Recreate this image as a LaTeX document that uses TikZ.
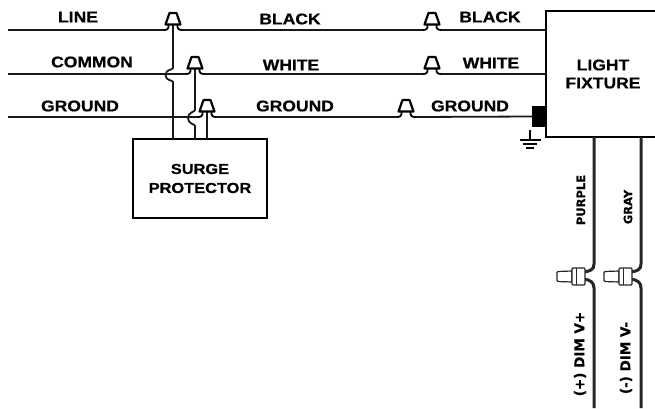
\documentclass[tikz,border=0pt]{standalone}
\usepackage{fontspec}
\setmainfont[FakeStretch=1.13,BoldFeatures={FakeStretch=1.13,FakeBold=0.6}]{Liberation Sans}
\newfontfamily\rotfont[BoldFeatures={FakeBold=0.3}]{DejaVu Sans}
\tikzset{
 wire/.style={draw=black!90,line width=1.8pt},
 lab/.style={font=\bfseries\fontsize{15.5}{18}\selectfont,inner sep=0pt,anchor=center},
 boxlab/.style={font=\bfseries\fontsize{14.5}{18}\selectfont,align=center,inner sep=0pt},
 vlab/.style={font=\rotfont\bfseries\fontsize{11.5}{12}\selectfont,rotate=90,inner sep=0pt},
 dimlab/.style={font=\rotfont\bfseries\fontsize{13.5}{14}\selectfont,rotate=90,inner sep=0pt},
 rail/.style={draw=black!85,line width=3pt},
 nut/.pic={\draw[line width=2.2pt,line join=round,fill=white] (-3.5,-17)--(3.5,-17)--(7.5,-5.5)--(-7.5,-5.5)--cycle;
   \draw[line width=1.8pt] (-4.5,-5.5) .. controls (-4,-1) and (-6,0) .. (-9,0);
   \draw[line width=1.8pt] (4.5,-5.5) .. controls (4,-1) and (6,0) .. (9,0);},
 wirenut/.pic={\draw[line width=1.2pt,draw=black!85,fill=white,rounded corners=1pt] (0,-5)--(15,-5.5)--(15,5.5)--(0,5)--cycle;
   \draw[line width=1.2pt,draw=black!85,fill=white,rounded corners=1pt] (15,-8.5) rectangle (28,8.5);
   \draw[line width=1pt,draw=black!85] (19,-8.5)--(19,8.5);}
}
\begin{document}
\begin{tikzpicture}[x=1pt,y=-1pt]
\useasboundingbox (0,0) rectangle (655,408);
\coordinate (n1) at (173,30); \coordinate (n2) at (195,74); \coordinate (n3) at (207,117);
\coordinate (r1) at (432,30); \coordinate (r2) at (432,74); \coordinate (r3) at (406,117);
\coordinate (l1) at (8,30); \coordinate (l2) at (8,74); \coordinate (l3) at (8,117);
\node[draw=black,line width=2pt,minimum width=134pt,minimum height=79pt,inner sep=0pt,boxlab] (sp) at (200,178.5) {SURGE\\[1pt]PROTECTOR};
\coordinate (fx) at (546,11);
\coordinate (fy) at (546,137);
\coordinate (fe) at (655,137);
\coordinate (ft) at (655,11);
\draw[line width=2pt] (ft)--(fx)--(fy)--(fe);
\node[font=\bfseries\fontsize{15.5}{18}\selectfont,align=center,inner sep=0pt] (lf) at (603,74) {LIGHT\\FIXTURE};
\node[fill=black,minimum width=14pt,minimum height=21pt,inner sep=0pt] (blk) at (539,116.5) {};
% horizontal wires
\draw[wire] (l1)--(165,30);
\draw[wire] (181,30)--(423,30);
\draw[wire] (441,30)--(546,30);
\draw[wire] (l2)--(187,74);
\draw[wire] (203,74)--(423,74);
\draw[wire] (441,74)--(546,74);
\draw[wire] (l3)--(199,117);
\draw[wire] (215,117)--(397,117);
\draw[wire] (415,117)--(blk.west);
% verticals with hops
\draw[wire] (173,24)--(173,68) .. controls (173,70) and (165.5,69) .. (165.5,75) .. controls (165.5,81) and (173,80) .. (173,82)--(173,139);
\draw[wire] (195,68)--(195,110) .. controls (195,112) and (188,112) .. (188,118) .. controls (188,124) and (195,124) .. (195,126)--(195,139);
\draw[wire] (207,111)--(207,139);
% nuts
\foreach \c in {n1,n2,n3,r1,r2,r3}{\pic at (\c) {nut};}
% ground
\coordinate (g0) at (530,130);
\draw[line width=1.2pt] (g0)--(530,139);
\draw[line width=1.2pt] (520,140)--(541,140);
\draw[line width=1.2pt] (523,144)--(537,144);
\draw[line width=1.2pt] (526,148)--(534,148);
% dim wires
\coordinate (p1) at (594,137); \coordinate (p2) at (594,408);
\coordinate (q1) at (641,137); \coordinate (q2) at (641,408);
\draw[rail] (p1)--(594,264) .. controls (594,270) and (590,271) .. (584,272);
\draw[rail] (584,279) .. controls (590,280) and (594,282) .. (594,288)--(p2);
\draw[rail] (q1)--(641,264) .. controls (641,270) and (637,271) .. (631,272);
\draw[rail] (631,279) .. controls (637,280) and (641,282) .. (641,288)--(q2);
\pic at (557,276.5) {wirenut};
\pic at (604,276.5) {wirenut};
% labels
\node[lab] (a1) at (78,17) {LINE};
\node[lab] (a2) at (92,62) {COMMON};
\node[lab] (a3) at (80,106) {GROUND};
\node[lab] (b1) at (290,19) {BLACK};
\node[lab] (b2) at (291,65) {WHITE};
\node[lab] (b3) at (295,106) {GROUND};
\node[lab] (c1) at (490,17) {BLACK};
\node[lab] (c2) at (491,63) {WHITE};
\node[lab] (c3) at (470,106) {GROUND};
\node[vlab] (v1) at (581,200) {PURPLE};
\node[vlab] (v2) at (628,207) {GRAY};
\node[dimlab] (v3) at (580,354) {(+) DIM V+};
\node[dimlab] (v4) at (626,358) {(-) DIM V-};
\end{tikzpicture}
\end{document}
